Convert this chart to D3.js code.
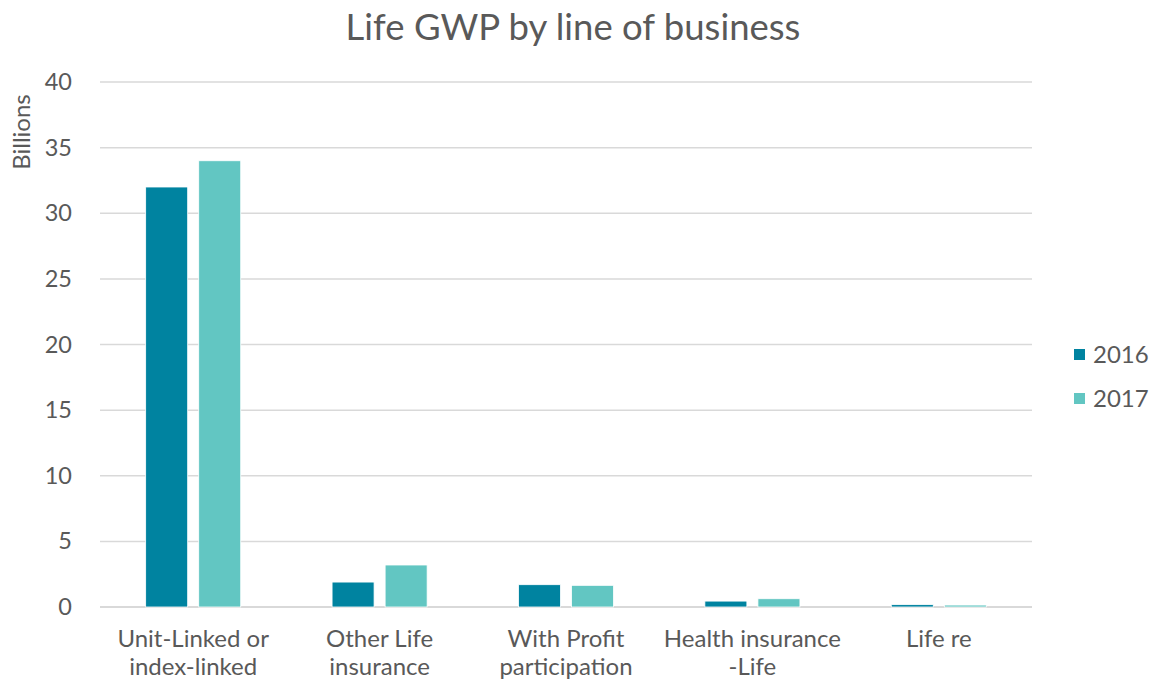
<!DOCTYPE html>
<html>
<head>
<meta charset="utf-8">
<script src="https://cdn.jsdelivr.net/npm/d3@7"></script>
<style>
  body { margin: 0; background: #fff; }
  text { font-family: Lato, "Open Sans", sans-serif; fill: #595959; }
</style>
</head>
<body>
<svg id="chart" width="1156" height="680"></svg>
<script>
var categories = [["Unit-Linked or", "index-linked"], ["Other Life", "insurance"], ["With Profit", "participation"], ["Health insurance", "-Life"], ["Life re"]];
var series = ["2016", "2017"];
var values2016 = [32.0, 1.9, 1.7, 0.45, 0.18];
var values2017 = [34.0, 3.2, 1.65, 0.63, 0.15];
var yTicks = [0, 5, 10, 15, 20, 25, 30, 35, 40];
var colors = ["#0083A0", "#62C6C2"];

var svg = d3.select("#chart"),
    margin = {top: 82, right: 124, bottom: 73, left: 100},
    width = +svg.attr("width") - margin.left - margin.right,
    height = +svg.attr("height") - margin.top - margin.bottom;

var data = categories.map(function(c, i) {
  return {label: c, values: [values2016[i], values2017[i]]};
});

var x0 = d3.scaleBand().domain(d3.range(categories.length)).range([0, width])
    .paddingInner(0.49).paddingOuter(0.245);
var x1 = d3.scaleBand().domain(d3.range(series.length)).range([0, x0.bandwidth()])
    .paddingInner(0.208);
var y = d3.scaleLinear().domain([0, 40]).range([height, 0]);

svg.append("text")
    .attr("x", 573).attr("y", 40)
    .attr("text-anchor", "middle")
    .style("font-size", "36.5px")
    .text("Life GWP by line of business");

var g = svg.append("g")
    .attr("transform", "translate(" + margin.left + "," + margin.top + ")");

// gridlines
g.append("g").selectAll("line")
  .data(yTicks)
  .enter().append("line")
    .attr("x1", 0).attr("x2", width)
    .attr("y1", function(d) { return y(d); })
    .attr("y2", function(d) { return y(d); })
    .attr("stroke", "#D9D9D9")
    .attr("stroke-width", function(d) { return d === 0 ? 2 : 1.5; });

// y axis
var yAxis = g.append("g")
    .call(d3.axisLeft(y).tickValues(yTicks).tickSize(0).tickPadding(28));
yAxis.select(".domain").remove();
yAxis.selectAll("text").style("font-size", "23.5px").attr("fill", "#595959");

svg.append("text")
    .attr("transform", "translate(30,132) rotate(-90)")
    .attr("text-anchor", "middle")
    .style("font-size", "24px")
    .text("Billions");

// bars
var groups = g.selectAll(".cat")
  .data(data)
  .enter().append("g")
    .attr("class", "cat")
    .attr("transform", function(d, i) { return "translate(" + x0(i) + ",0)"; });

groups.selectAll("rect")
  .data(function(d) { return d.values; })
  .enter().append("rect")
    .attr("x", function(d, j) { return x1(j); })
    .attr("y", function(d) { return y(d); })
    .attr("width", x1.bandwidth())
    .attr("height", function(d) { return height - y(d); })
    .attr("fill", function(d, j) { return colors[j]; })
    .attr("stroke", "#fff")
    .attr("stroke-width", 0.8);

// category labels
var xAxis = g.append("g")
    .attr("transform", "translate(0," + height + ")");
xAxis.selectAll("text")
  .data(data)
  .enter().append("text")
    .attr("x", function(d, i) { return x0(i) + x0.bandwidth() / 2; })
    .attr("y", 40)
    .attr("text-anchor", "middle")
    .style("font-size", "24px")
    .each(function(d) {
      var t = d3.select(this);
      d.label.forEach(function(line, k) {
        t.append("tspan")
          .attr("x", t.attr("x"))
          .attr("dy", k === 0 ? 0 : 28)
          .text(line);
      });
    });

// legend
var legend = svg.append("g").attr("transform", "translate(1074,349)");
series.forEach(function(s, i) {
  var row = legend.append("g").attr("transform", "translate(0," + (i * 44) + ")");
  row.append("rect").attr("width", 11).attr("height", 11).attr("fill", colors[i]);
  row.append("text").attr("x", 19).attr("y", 14)
    .style("font-size", "24px").text(s);
});
</script>
</body>
</html>
